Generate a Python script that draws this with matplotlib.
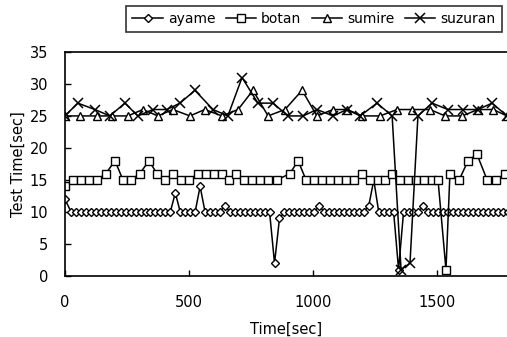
import matplotlib
matplotlib.use("Agg")
import matplotlib.pyplot as plt

# sampling times [sec] and test times [sec] per series
ayame_t = [0, 25, 45, 65, 85, 105, 125, 145, 165, 185, 205, 225, 245, 265, 285,
           305, 325, 345, 365, 385, 405, 425, 445, 465, 485, 505, 525, 545, 565,
           585, 605, 625, 645, 665, 685, 705, 725, 745, 765, 785, 805, 825, 845,
           865, 885, 905, 925, 945, 965, 985, 1005, 1025, 1045, 1065, 1085, 1105,
           1125, 1145, 1165, 1185, 1205, 1225, 1245, 1265, 1285, 1305, 1325, 1345,
           1365, 1385, 1405, 1425, 1445, 1465, 1485, 1505, 1525, 1545, 1565, 1585,
           1605, 1625, 1645, 1665, 1685, 1705, 1725, 1745, 1765, 1785]
ayame = [12, 10, 10, 10, 10, 10, 10, 10, 10, 10, 10, 10, 10, 10, 10,
         10, 10, 10, 10, 10, 10, 10, 13, 10, 10, 10, 10, 14, 10,
         10, 10, 10, 11, 10, 10, 10, 10, 10, 10, 10, 10, 10, 2,
         9, 10, 10, 10, 10, 10, 10, 10, 11, 10, 10, 10, 10,
         10, 10, 10, 10, 10, 11, 15, 10, 10, 10, 10, 1,
         10, 10, 10, 10, 11, 10, 10, 10, 10, 10, 10, 10,
         10, 10, 10, 10, 10, 10, 10, 10, 10, 10]

botan_t = [0, 32, 65, 97, 129, 165, 202, 234, 266, 302, 339, 371, 403, 435, 468,
           500, 536, 569, 601, 633, 661, 690, 722, 754, 786, 819, 855, 907, 940,
           972, 1004, 1036, 1069, 1101, 1133, 1165, 1198, 1230, 1262, 1290, 1319,
           1351, 1383, 1415, 1448, 1480, 1504, 1536, 1552, 1589, 1625, 1661, 1702,
           1738, 1774]
botan = [14, 15, 15, 15, 15, 16, 18, 15, 15, 16, 18, 16, 15, 16, 15,
         15, 16, 16, 16, 16, 15, 16, 15, 15, 15, 15, 15, 16, 18,
         15, 15, 15, 15, 15, 15, 15, 16, 15, 15, 15, 16,
         15, 15, 15, 15, 15, 15, 1, 16, 15, 18, 19, 15,
         15, 16]

sumire_t = [0, 60, 129, 190, 254, 314, 375, 435, 504, 564, 633, 698, 758, 819,
            887, 956, 1016, 1081, 1137, 1198, 1270, 1339, 1399, 1472, 1532, 1601,
            1665, 1726, 1782]
sumire = [25, 25, 25, 25, 25, 26, 25, 26, 25, 26, 25, 26, 29, 25,
          26, 29, 25, 26, 26, 25, 25, 26, 26, 26, 25, 25,
          26, 26, 25]

suzuran_t = [0, 52, 121, 181, 242, 294, 355, 411, 464, 524, 597, 657, 714, 778,
             839, 899, 960, 1016, 1081, 1137, 1190, 1258, 1319, 1355, 1391, 1423,
             1480, 1544, 1605, 1665, 1722, 1782]
suzuran = [25, 27, 26, 25, 27, 25, 26, 26, 27, 29, 26, 25, 31, 27,
           27, 25, 25, 26, 25, 26, 25, 27, 25, 1, 2, 25,
           27, 26, 26, 26, 27, 25]

plt.rcParams['font.family'] = ['DejaVu Sans']
plt.rcParams['font.size'] = 9

fig = plt.figure(figsize=(5.07, 3.37), dpi=100)
ax = fig.add_axes([0.128, 0.181, 0.872, 0.665])

ax.plot(ayame_t, ayame, color='black', lw=1.1, marker='D', ms=3.8,
        mfc='white', mec='black', mew=1.0, label='ayame')
ax.plot(botan_t, botan, color='black', lw=1.1, marker='s', ms=6,
        mfc='white', mec='black', mew=1.0, label='botan')
ax.plot(sumire_t, sumire, color='black', lw=1.1, marker='^', ms=6,
        mfc='white', mec='black', mew=1.0, label='sumire')
ax.plot(suzuran_t, suzuran, color='black', lw=1.1, marker='x', ms=7,
        mec='black', mew=1.1, label='suzuran')

ax.set_xlim(0, 1782)
ax.set_ylim(0, 35)
ax.set_xticks([0, 500, 1000, 1500])
ax.set_yticks([0, 5, 10, 15, 20, 25, 30, 35])
ax.tick_params(direction='in', length=4, width=1, labelsize=10.5)
ax.tick_params(axis='x', pad=14)
ax.tick_params(axis='y', pad=12)
ax.spines['right'].set_visible(False)
for s in ['left', 'bottom', 'top']:
    ax.spines[s].set_linewidth(1.2)

ax.set_xlabel('Time[sec]', fontsize=10.5, labelpad=8)
ax.set_ylabel('Test Time[sec]', fontsize=10.5, labelpad=3)

leg = fig.legend(loc='center', bbox_to_anchor=(0.619, 0.944), ncol=4,
                 frameon=True, fancybox=False, edgecolor='black',
                 fontsize=10, handlelength=2.2, handletextpad=0.35,
                 columnspacing=0.75, borderpad=0.45)
leg.get_frame().set_linewidth(1.2)

fig.savefig('out.png', dpi=100)
